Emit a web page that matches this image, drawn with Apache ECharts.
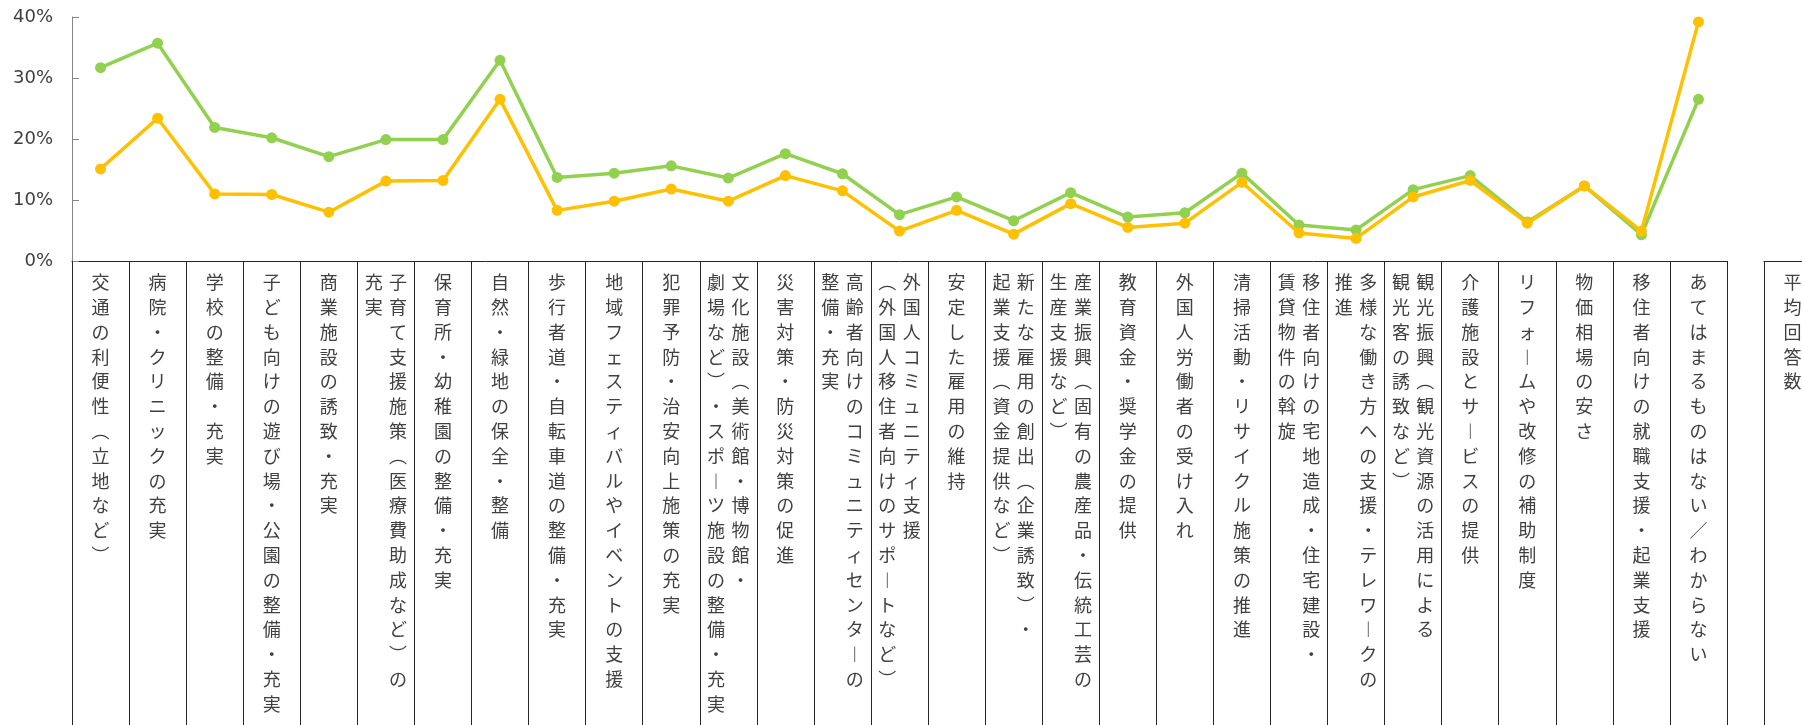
<!DOCTYPE html>
<html>
<head>
<meta charset="utf-8">
<script src="https://cdn.jsdelivr.net/npm/echarts@6/dist/echarts.min.js"></script>
<style>
html,body{margin:0;padding:0;background:#fff;}
#chart{width:1802px;height:725px;}
</style>
</head>
<body>
<div id="chart"></div>
<script>
// Category labels ("\n" marks where the vertical label wraps into a new column)
const categories = [
  '交通の利便性（立地など）',
  '病院・クリニックの充実',
  '学校の整備・充実',
  '子ども向けの遊び場・公園の整備・充実',
  '商業施設の誘致・充実',
  '子育て支援施策（医療費助成など）の\n充実',
  '保育所・幼稚園の整備・充実',
  '自然・緑地の保全・整備',
  '歩行者道・自転車道の整備・充実',
  '地域フェスティバルやイベントの支援',
  '犯罪予防・治安向上施策の充実',
  '文化施設（美術館・博物館・\n劇場など）・スポーツ施設の整備・充実',
  '災害対策・防災対策の促進',
  '高齢者向けのコミュニティセンターの\n整備・充実',
  '外国人コミュニティ支援\n（外国人移住者向けのサポートなど）',
  '安定した雇用の維持',
  '新たな雇用の創出（企業誘致）・\n起業支援（資金提供など）',
  '産業振興（固有の農産品・伝統工芸の\n生産支援など）',
  '教育資金・奨学金の提供',
  '外国人労働者の受け入れ',
  '清掃活動・リサイクル施策の推進',
  '移住者向けの宅地造成・住宅建設・\n賃貸物件の斡旋',
  '多様な働き方への支援・テレワークの\n推進',
  '観光振興（観光資源の活用による\n観光客の誘致など）',
  '介護施設とサービスの提供',
  'リフォームや改修の補助制度',
  '物価相場の安さ',
  '移住者向けの就職支援・起業支援',
  'あてはまるものはない／わからない'
];
const extraCategory = ['平均回答数'];

const seriesNames = ['系列1', '系列2'];
const greenValues = [31.7, 35.7, 21.9, 20.2, 17.1, 19.9, 19.9, 32.9, 13.7, 14.4, 15.6, 13.6, 17.6, 14.3,
  7.6, 10.5, 6.6, 11.2, 7.2, 7.9, 14.4, 5.9, 5.1, 11.7, 14.0, 6.4, 12.3, 4.3, 26.5];
const yellowValues = [15.1, 23.4, 11.0, 10.9, 8.0, 13.1, 13.2, 26.5, 8.3, 9.8, 11.8, 9.8, 14.0, 11.5,
  4.9, 8.3, 4.4, 9.4, 5.5, 6.2, 12.9, 4.6, 3.7, 10.5, 13.2, 6.2, 12.3, 4.9, 39.2];

const yMin = 0, yMax = 40, yStep = 10;

const vertMap = { '（': '︵', '）': '︶', 'ー': '︱' };
function verticalLabel(name) {
  const cols = name.split('\n').map(s => Array.from(s).map(ch => vertMap[ch] || ch));
  const rows = Math.max.apply(null, cols.map(c => c.length));
  const lines = [];
  for (let r = 0; r < rows; r++) {
    let line = '';
    for (let c = cols.length - 1; c >= 0; c--) {
      line += '{c|' + (cols[c][r] || '　') + '}';
    }
    lines.push(line);
  }
  return lines.join('\n');
}

const labelRich = {
  c: {
    width: 24.4,
    align: 'center',
    fontSize: 18,
    lineHeight: 24.8,
    fontFamily: '"Noto Sans CJK JP", sans-serif',
    color: '#404040'
  }
};

const chart = echarts.init(document.getElementById('chart'), null, { renderer: 'canvas' });
chart.setOption({
  animation: false,
  backgroundColor: '#ffffff',
  grid: [
    { left: 72, right: 75, top: 17, bottom: 464, containLabel: false, outerBoundsMode: 'none' },
    { left: 1764, width: 57.1, top: 17, bottom: 464, containLabel: false, outerBoundsMode: 'none' }
  ],
  xAxis: [
    {
      type: 'category',
      gridIndex: 0,
      data: categories,
      boundaryGap: true,
      axisLine: { show: true, lineStyle: { color: '#262626', width: 1 } },
      axisTick: { show: true, interval: 0, length: 470, lineStyle: { color: '#262626', width: 1 } },
      axisLabel: { interval: 0, margin: 9, hideOverlap: false, formatter: verticalLabel, rich: labelRich },
      splitLine: { show: false }
    },
    {
      type: 'category',
      gridIndex: 1,
      data: extraCategory,
      boundaryGap: true,
      axisLine: { show: true, lineStyle: { color: '#262626', width: 1 } },
      axisTick: { show: true, interval: 0, length: 470, lineStyle: { color: '#262626', width: 1 } },
      axisLabel: { interval: 0, margin: 9, formatter: verticalLabel, rich: labelRich },
      splitLine: { show: false }
    }
  ],
  yAxis: [
    {
      type: 'value',
      gridIndex: 0,
      min: yMin, max: yMax, interval: yStep,
      axisLine: { show: true, lineStyle: { color: '#868686', width: 1 } },
      axisTick: { show: true, inside: true, length: 7, lineStyle: { color: '#868686', width: 1 } },
      axisLabel: {
        formatter: '{value}%', margin: 19, fontSize: 18,
        fontFamily: '"DejaVu Sans", sans-serif', color: '#404040'
      },
      splitLine: { show: false }
    },
    {
      type: 'value', gridIndex: 1, min: yMin, max: yMax, show: false
    }
  ],
  series: [
    {
      name: seriesNames[0],
      type: 'line',
      xAxisIndex: 0, yAxisIndex: 0,
      data: greenValues,
      symbol: 'circle', symbolSize: 11,
      lineStyle: { color: '#92D050', width: 3.5 },
      itemStyle: { color: '#92D050' },
      z: 2
    },
    {
      name: seriesNames[1],
      type: 'line',
      xAxisIndex: 0, yAxisIndex: 0,
      data: yellowValues,
      symbol: 'circle', symbolSize: 11,
      lineStyle: { color: '#FFC000', width: 3.5 },
      itemStyle: { color: '#FFC000' },
      z: 3
    }
  ]
});
</script>
</body>
</html>
